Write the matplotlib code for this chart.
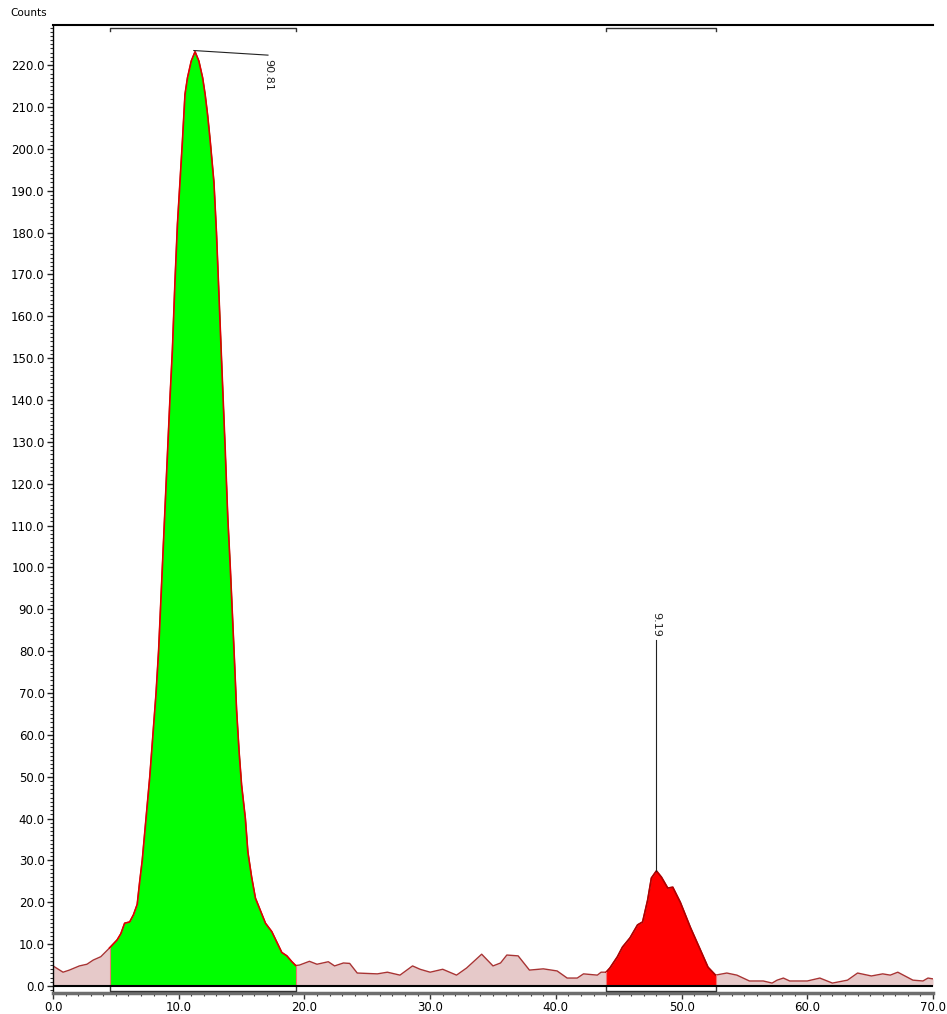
import numpy as np
import matplotlib
matplotlib.use("Agg")
import matplotlib.pyplot as plt
from matplotlib.ticker import MultipleLocator

# trace (x in min, y in counts)
x = np.array([0.0, 0.8, 1.3, 2.1, 2.7, 3.2, 3.8, 4.5, 5.1, 5.4, 5.7, 6.1, 6.4, 6.7,
              6.9, 7.1, 7.4, 7.7, 8.0, 8.2, 8.4, 8.7, 9.0, 9.3, 9.5, 9.7, 9.9, 10.1,
              10.3, 10.5, 10.7, 11.0, 11.3, 11.6, 11.9, 12.1, 12.3, 12.5, 12.8, 13.0,
              13.2, 13.4, 13.7, 13.9, 14.1, 14.4, 14.6, 14.8, 15.0, 15.3, 15.5, 15.8,
              16.1, 16.5, 16.9, 17.4, 17.8, 18.2, 18.6, 19.0, 19.3, 19.6, 20.4, 21.0,
              21.9, 22.4, 23.1, 23.6, 24.2, 25.8, 26.6, 27.6, 28.6, 29.2, 30.0, 31.0,
              32.1, 32.9, 34.1, 35.0, 35.6, 36.1, 37.0, 37.9, 39.0, 40.1, 40.9, 41.7,
              42.2, 43.3, 43.6, 44.0, 44.3, 44.9, 45.3, 45.9, 46.5, 46.9, 47.3, 47.6,
              48.0, 48.4, 48.9, 49.3, 49.9, 50.7, 51.5, 52.1, 52.7, 53.6, 54.4, 55.4,
              56.5, 57.2, 57.6, 58.1, 58.6, 60.0, 61.0, 62.0, 63.2, 64.0, 65.1, 66.0,
              66.6, 67.2, 68.4, 69.2, 69.6, 70.0])
y = np.array([4.8, 3.3, 3.8, 4.8, 5.2, 6.2, 7.0, 9.1, 11.0, 12.5, 15.0, 15.3, 17.0, 19.5,
              25.0, 30.0, 40.0, 50.0, 62.0, 70.0, 80.0, 100.0, 120.0, 140.0, 152.0, 168.0,
              182.0, 192.0, 202.0, 213.0, 217.0, 221.0, 223.2, 221.0, 217.0, 213.0, 208.0,
              202.0, 192.0, 180.0, 165.0, 150.0, 128.0, 112.0, 100.0, 80.0, 66.0, 56.0,
              48.0, 40.0, 32.0, 26.0, 21.0, 18.0, 15.0, 13.0, 10.5, 8.0, 7.2, 5.8, 4.9,
              5.0, 5.9, 5.2, 5.8, 4.8, 5.5, 5.4, 3.1, 2.9, 3.3, 2.6, 4.8, 4.0, 3.3, 4.0,
              2.6, 4.3, 7.6, 4.8, 5.5, 7.4, 7.2, 3.8, 4.1, 3.6, 1.9, 1.9, 2.9, 2.6, 3.3,
              3.3, 4.3, 7.0, 9.3, 11.5, 14.6, 15.3, 20.5, 25.8, 27.5, 26.0, 23.4, 23.6,
              20.0, 14.0, 8.6, 4.5, 2.6, 3.1, 2.6, 1.2, 1.2, 0.7, 1.4, 1.9, 1.2, 1.2, 1.9,
              0.7, 1.4, 3.1, 2.4, 2.9, 2.6, 3.3, 1.4, 1.2, 1.9, 1.7])

peak_start = [4.5, 44.0]
peak_end = [19.3, 52.7]
peak_area = ["90.81", "9.19"]
peak_fill = ["#00ff00", "#ff0000"]
peak_edge = ["#e00000", "#b00000"]

ymin, ymax = -1.67, 229.6

fig = plt.figure(figsize=(9.47, 10.14), dpi=100)
ax = fig.add_axes([53 / 947, 1 - 993 / 1014, 880 / 947, (993 - 25) / 1014])

# background trace
ax.fill_between(x, 0, y, color="#e6c9c9", lw=0, zorder=1)
ax.plot(x, y, color="#a83434", lw=1, zorder=2)

for i in range(2):
    m = (x >= peak_start[i]) & (x <= peak_end[i])
    ax.fill_between(x[m], 0, y[m], color=peak_fill[i], lw=0, zorder=3)
    ax.plot(x[m], y[m], color=peak_edge[i], lw=1.2, zorder=4)
    ax.plot([x[m][0], x[m][0]], [0, y[m][0]], color="#f07070", lw=0.8, zorder=4)
    ax.plot([x[m][-1], x[m][-1]], [0, y[m][-1]], color="#f07070", lw=0.8, zorder=4)
    # integration brackets
    ax.plot([peak_start[i], peak_start[i], peak_end[i], peak_end[i]],
            [228.1, 229.0, 229.0, 228.1], color="#333333", lw=1, zorder=5, clip_on=False)
    ax.plot([peak_start[i], peak_start[i], peak_end[i], peak_end[i]],
            [-0.25, -1.2, -1.2, -0.25], color="#333333", lw=1, zorder=5, clip_on=False)

# peak labels
k1 = np.argmax(np.where(x < 30, y, 0))
ax.plot([x[k1] - 0.1, 17.1], [y[k1] + 0.3, 222.4], color="#222222", lw=0.8, zorder=6)
ax.text(17.1, 221.5, peak_area[0], rotation=270, ha="center", va="top", fontsize=8,
        color="#222222")
k2 = np.argmax(np.where(x > 30, y, 0))
ax.plot([x[k2], x[k2]], [y[k2], 82.7], color="#222222", lw=0.8, zorder=6)
ax.text(x[k2], 83.5, peak_area[1], rotation=270, ha="center", va="bottom", fontsize=8,
        color="#222222")

ax.axhline(0, color="black", lw=1.5, zorder=6)

ax.set_xlim(0, 70)
ax.set_ylim(ymin, ymax)
ax.xaxis.set_minor_locator(MultipleLocator(1))
ax.yaxis.set_minor_locator(MultipleLocator(1))
ax.set_yticks(np.arange(0, 230, 10))
ax.set_yticklabels(["%.1f" % v for v in np.arange(0, 230, 10)])
ax.set_xticks(np.arange(0, 71, 10))
ax.set_xticklabels(["%.1f" % v for v in np.arange(0, 71, 10)])
ax.tick_params(axis="both", which="major", length=4, width=1, labelsize=8.5, pad=2,
               color="#222222")
ax.tick_params(axis="both", which="minor", length=2.5, width=0.8, color="#333333")
ax.tick_params(axis="x", which="both", colors="#333333", labelcolor="black")

ax.spines["right"].set_visible(False)
ax.spines["top"].set_linewidth(1.5)
ax.spines["left"].set_linewidth(1)
ax.spines["bottom"].set_linewidth(2.5)
ax.spines["bottom"].set_color("#6e6e6e")

fig.text(10 / 947, 1 - 13 / 1014, "Counts", fontsize=7.5, va="center", ha="left")

fig.savefig("out.png", dpi=100)
